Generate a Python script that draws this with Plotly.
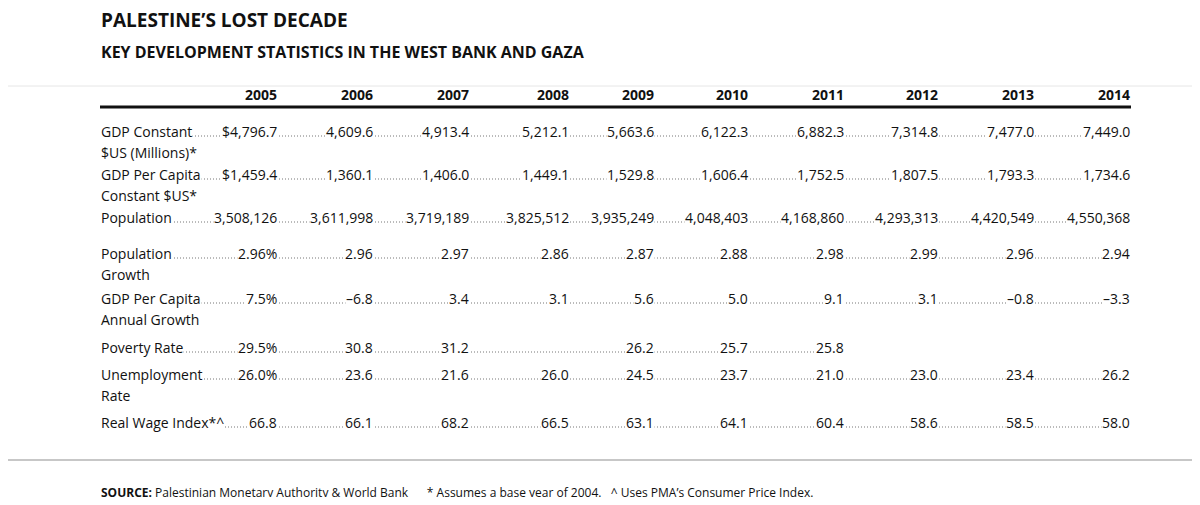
import plotly.graph_objects as go

years = ["2005", "2006", "2007", "2008", "2009", "2010", "2011", "2012", "2013", "2014"]
labels = [
    ["GDP Constant", "$US (Millions)*"],
    ["GDP Per Capita", "Constant $US*"],
    ["Population"],
    ["Population", "Growth"],
    ["GDP Per Capita", "Annual Growth"],
    ["Poverty Rate"],
    ["Unemployment", "Rate"],
    ["Real Wage Index*^"],
]
gdp = [4796.7, 4609.6, 4913.4, 5212.1, 5663.6, 6122.3, 6882.3, 7314.8, 7477.0, 7449.0]
gdp_pc = [1459.4, 1360.1, 1406.0, 1449.1, 1529.8, 1606.4, 1752.5, 1807.5, 1793.3, 1734.6]
population = [3508126, 3611998, 3719189, 3825512, 3935249, 4048403, 4168860, 4293313, 4420549, 4550368]
pop_growth = [2.96, 2.96, 2.97, 2.86, 2.87, 2.88, 2.98, 2.99, 2.96, 2.94]
gdp_pc_growth = [7.5, -6.8, 3.4, 3.1, 5.6, 5.0, 9.1, 3.1, -0.8, -3.3]
poverty = [29.5, 30.8, 31.2, None, 26.2, 25.7, 25.8, None, None, None]
unemployment = [26.0, 23.6, 21.6, 26.0, 24.5, 23.7, 21.0, 23.0, 23.4, 26.2]
real_wage = [66.8, 66.1, 68.2, 66.5, 63.1, 64.1, 60.4, 58.6, 58.5, 58.0]

col_x = [278, 374, 470, 570, 655, 749, 845, 939, 1035, 1131]
row_y = [131, 174, 217, 253, 298, 347, 374, 422]
sub_dy = 21


def fmt_rows():
    out = []
    out.append([("$" if i == 0 else "") + f"{v:,.1f}" for i, v in enumerate(gdp)])
    out.append([("$" if i == 0 else "") + f"{v:,.1f}" for i, v in enumerate(gdp_pc)])
    out.append([f"{v:,}" for v in population])
    out.append([f"{v:.2f}" + ("%" if i == 0 else "") for i, v in enumerate(pop_growth)])
    out.append([(f"{v:.1f}".replace("-", "\u2013")) + ("%" if i == 0 else "") for i, v in enumerate(gdp_pc_growth)])
    out.append([None if v is None else f"{v:.1f}" + ("%" if i == 0 else "") for i, v in enumerate(poverty)])
    out.append([f"{v:.1f}" + ("%" if i == 0 else "") for i, v in enumerate(unemployment)])
    out.append([f"{v:.1f}" for v in real_wage])
    return out


cells = fmt_rows()
font = "Open Sans"
fig = go.Figure()
ann = []

for r, (lab, vals) in enumerate(zip(labels, cells)):
    y = row_y[r]
    last = max(i for i, v in enumerate(vals) if v is not None)
    fig.add_trace(go.Scatter(x=[102, col_x[last] - 4], y=[y + 5, y + 5], mode="lines",
                             line=dict(color="#777", width=1, dash="1px,2px"),
                             hoverinfo="skip", showlegend=False))
    ann.append(dict(x=100, y=y, text=lab[0], xanchor="left", bgcolor="white",
                    font=dict(size=14, color="#111", family=font)))
    if len(lab) > 1:
        ann.append(dict(x=100, y=y + sub_dy, text=lab[1], xanchor="left",
                        font=dict(size=14, color="#111", family=font)))
    for i, v in enumerate(vals):
        if v is None:
            continue
        ann.append(dict(x=col_x[i], y=y, text=v, xanchor="right", bgcolor="white",
                        font=dict(size=14, color="#111", family=font)))

for i, yr in enumerate(years):
    ann.append(dict(x=col_x[i], y=94, text="<b>" + yr + "</b>", xanchor="right",
                    font=dict(size=14, color="#111", family=font)))

ann.append(dict(x=100, y=20, text="<b>PALESTINE’S LOST DECADE</b>", xanchor="left",
                font=dict(size=19, color="#111", family=font)))
ann.append(dict(x=100, y=52, text="<b>KEY DEVELOPMENT STATISTICS IN THE WEST BANK AND GAZA</b>",
                xanchor="left", font=dict(size=16, color="#111", family=font)))
ann.append(dict(x=100, y=492, xanchor="left",
                text="<b>SOURCE:</b> Palestinian Monetary Authority &amp; World Bank"
                     "      * Assumes a base year of 2004.   ^ Uses PMA’s Consumer Price Index.",
                font=dict(size=12, color="#111", family=font)))
for a in ann:
    a.update(xref="x", yref="y", showarrow=False, yanchor="middle", borderpad=0)

shapes = [
    dict(type="line", x0=0, x1=1200, y0=86, y1=86, line=dict(color="#e6e6e6", width=1)),
    dict(type="line", x0=100, x1=1131, y0=107, y1=107, line=dict(color="#111", width=3)),
    dict(type="line", x0=0, x1=1200, y0=460, y1=460, line=dict(color="#b5b5b5", width=1.5)),
]
for s in shapes:
    s.update(xref="x", yref="y", layer="below")

# page body has an 8px margin, so offset the axes to keep page pixels = data units
fig.update_layout(
    width=1184, height=489, margin=dict(l=0, r=0, t=0, b=0),
    paper_bgcolor="white", plot_bgcolor="white",
    xaxis=dict(range=[8, 1192], visible=False, fixedrange=True),
    yaxis=dict(range=[497, 8], visible=False, fixedrange=True),
    annotations=ann, shapes=shapes,
)
fig.write_html("out.html")
